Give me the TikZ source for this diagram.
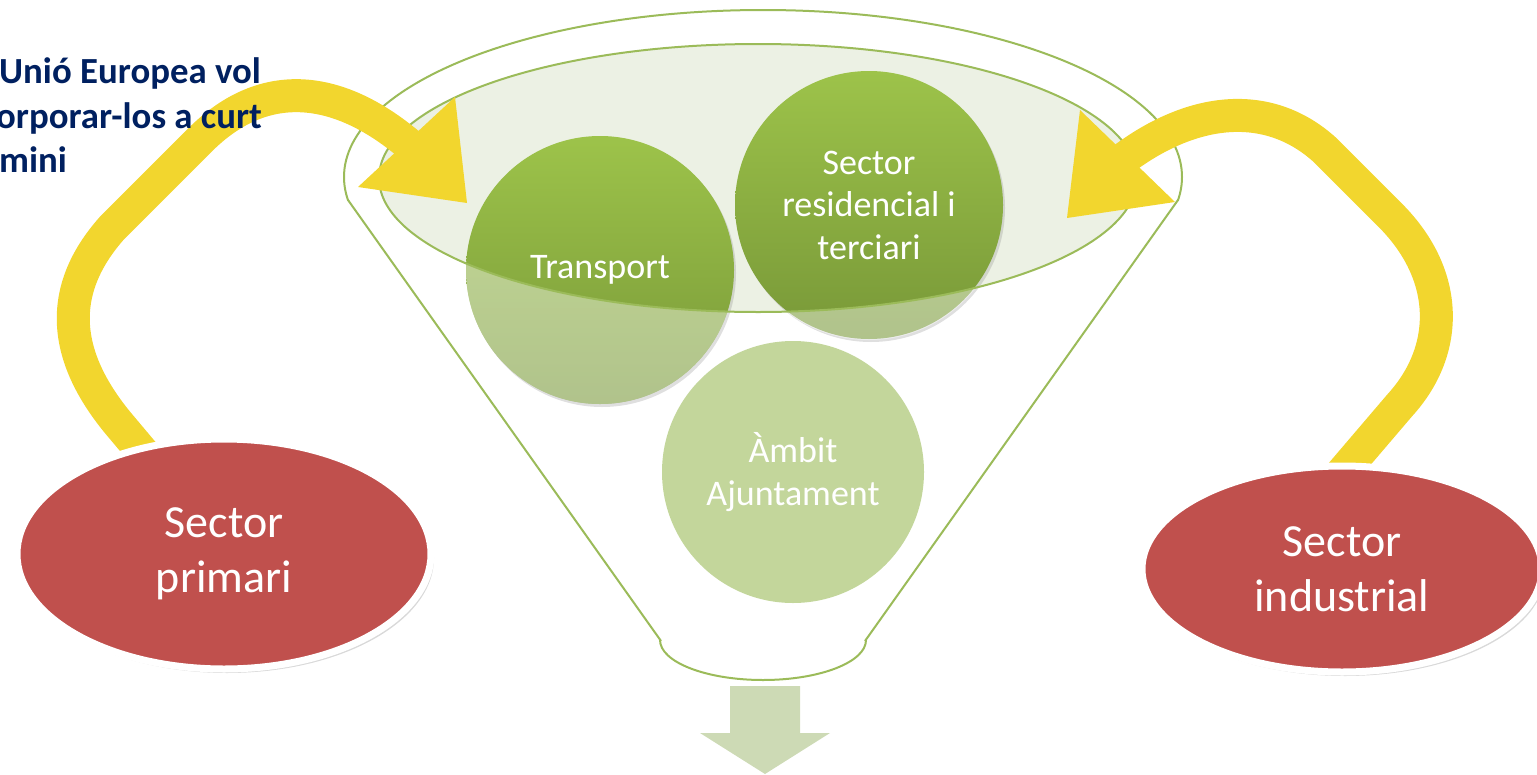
\documentclass[tikz,border=0pt]{standalone}
\usepackage{fontspec}
\setmainfont{Carlito}
\usetikzlibrary{shapes, arrows, positioning, shadows}
\definecolor{verd}{RGB}{155,187,89}
\definecolor{verdalt}{RGB}{157,195,74}
\definecolor{verdbaix}{RGB}{120,152,56}
\definecolor{verdclar}{RGB}{195,214,155}
\definecolor{fonsembut}{RGB}{236,241,228}
\definecolor{vermell}{RGB}{192,80,77}
\definecolor{groc}{RGB}{242,214,46}
\definecolor{blaufosc}{RGB}{0,32,96}
\definecolor{sortida}{RGB}{205,218,181}
\tikzstyle{embut} = [draw=verd, line width=2pt]
\tikzstyle{cercle} = [circle, minimum size=268pt, inner sep=0pt, top color=verdalt, bottom color=verdbaix, text=white, align=center, font=\fontsize{36}{42.5}\selectfont, drop shadow={opacity=0.25, shadow xshift=2pt, shadow yshift=-3pt}]
\tikzstyle{ambit} = [circle, minimum size=262pt, inner sep=0pt, fill=verdclar, text=white, align=center, font=\fontsize{36}{42.5}\selectfont]
\tikzstyle{sector} = [ellipse, fill=vermell, draw=white, line width=7pt, inner sep=0pt, text=white, align=center, font=\fontsize{46}{55}\selectfont, drop shadow={opacity=0.3, shadow xshift=3pt, shadow yshift=-4pt}]
\tikzstyle{fletxa} = [draw=groc, line width=33pt]
\tikzstyle{titol} = [anchor=base west, inner sep=0pt, text=blaufosc, font=\fontsize{36.8}{44}\selectfont\bfseries]

\begin{document}
\begin{tikzpicture}[x=1pt, y=-1pt]
	\useasboundingbox (0,0) rectangle (1537,774);
	% embut
	\fill[fonsembut] (758,178) ellipse [x radius=379, y radius=134];
	\begin{scope}
		\clip (300,0) rectangle (1240,200);
		\draw[embut] (763,177) ellipse [x radius=419, y radius=167];
	\end{scope}
	\draw[embut] (348,200) -- (661,641);
	\draw[embut] (1178,200) -- (865,641);
	\begin{scope}
		\clip (600,640) rectangle (930,700);
		\draw[embut] (763,640) ellipse [x radius=103, y radius=40];
	\end{scope}
	% cercles
	\node[cercle] (transport) at (600,270) {Transport};
	\node[cercle] (residencial) at (869,205) {Sector\\residencial i\\terciari};
	\begin{scope}[even odd rule]
		\clip (0,0) rectangle (1537,774) (758,178) ellipse [x radius=379, y radius=134];
		\fill[white, opacity=0.42, nonzero rule] (transport.center) circle [radius=134] (residencial.center) circle [radius=135];
	\end{scope}
	\draw[embut] (758,178) ellipse [x radius=379, y radius=134];
	\node[ambit] (ajuntament) at (793,472) {Àmbit\\Ajuntament};
	% sortida
	\fill[sortida] (730,686) -- (800,686) -- (800,733) -- (830,733) -- (765,774) -- (700,733) -- (730,733) -- cycle;
	% fletxes
	\draw[fletxa] (155,467) -- (118,423) .. controls (62,355) and (57,290) .. (112,228) -- (200,140) .. controls (265,75) and (340,85) .. (412,147);
	\fill[groc] (358,187) -- (455,97) -- (467,203) -- cycle;
	\draw[fletxa] (1330,487) -- (1400,405) .. controls (1450,350) and (1450,275) .. (1390,215) -- (1325,150) .. controls (1270,100) and (1195,105) .. (1122,160);
	\fill[groc] (1080,110) -- (1175,202) -- (1067,218) -- cycle;
	% sectors
	\node[sector, minimum width=414pt, minimum height=230pt] (primari) at (224,554) {Sector\\primari};
	\node[sector, minimum width=400pt, minimum height=206pt] (industrial) at (1342,569) {Sector\\industrial};
	% text
	\node[titol] (ue1) at (-1,83) {Unió Europea vol};
	\node[titol] (ue2) at (-4,128) {orporar-los a curt};
	\node[titol] (ue3) at (-1,172) {mini};
\end{tikzpicture}
\end{document}
